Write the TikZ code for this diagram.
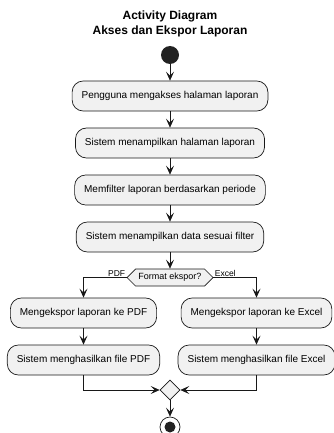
\documentclass[tikz,border=0pt]{standalone}
\usepackage{fontspec}
\setmainfont{Liberation Sans}
\usetikzlibrary{arrows.meta,shapes.geometric,shapes.symbols}
\definecolor{boxfill}{HTML}{F1F1F1}
\definecolor{linec}{HTML}{181818}
\definecolor{startc}{HTML}{222222}
\begin{document}
\begin{tikzpicture}[x=1pt,y=-1pt,
  act/.style={draw=linec, fill=boxfill, rounded corners=11pt, minimum height=30pt,
    inner xsep=9.5pt, font=\fontsize{10}{12}\selectfont, line width=0.7pt},
  flow/.style={draw=linec, line width=0.7pt, -{Stealth[length=9pt,width=8pt,inset=4pt]}},
  lbl/.style={font=\fontsize{8.5}{10}\selectfont, inner sep=1pt},
  decis/.style={signal, signal to=west and east, signal pointer angle=90,
    draw=linec, fill=boxfill, line width=0.7pt, minimum width=86pt, minimum height=17pt,
    inner sep=1pt, font=\fontsize{9}{11}\selectfont},
  mergebox/.style={diamond, draw=linec, fill=boxfill, line width=0.7pt,
    minimum width=20pt, minimum height=20pt, inner sep=0pt},
  titlefont/.style={font=\bfseries\fontsize{12}{15}\selectfont, align=center}]
\useasboundingbox (0,0) rectangle (334,433);
\node[titlefont] (title) at (170,23.5) {Activity Diagram\\Akses dan Ekspor Laporan};
\node[circle, fill=startc, minimum size=18pt, inner sep=0pt] (start) at (170,55) {};
\node[act] (a1) at (170,96) {Pengguna mengakses halaman laporan};
\node[act] (a2) at (170,143) {Sistem menampilkan halaman laporan};
\node[act] (a3) at (170,190) {Memfilter laporan berdasarkan periode};
\node[act] (a4) at (170,237) {Sistem menampilkan data sesuai filter};
\node[decis] (dec) at (170,277.5) {Format ekspor?};
\node[act] (p1) at (83.5,313) {Mengekspor laporan ke PDF};
\node[act] (p2) at (83.5,360) {Sistem menghasilkan file PDF};
\node[act] (x1) at (256.5,313) {Mengekspor laporan ke Excel};
\node[act] (x2) at (256.5,360) {Sistem menghasilkan file Excel};
\node[mergebox] (merge) at (170,390) {};
\node[circle, draw=linec, line width=0.7pt, fill=white, minimum size=20pt, inner sep=0pt] (end) at (170,427) {};
\fill[startc] (end.center) circle (5.5);
\draw[flow] (start) -- (a1);
\draw[flow] (a1) -- (a2);
\draw[flow] (a2) -- (a3);
\draw[flow] (a3) -- (a4);
\draw[flow] (a4) -- (dec.north);
\draw[flow] (dec.west) -| node[lbl, pos=0, anchor=south east] {PDF} (p1.north);
\draw[flow] (dec.east) -| node[lbl, pos=0, anchor=south west] {Excel} (x1.north);
\draw[flow] (p1) -- (p2);
\draw[flow] (x1) -- (x2);
\draw[flow] (p2.south) |- (merge.west);
\draw[flow] (x2.south) |- (merge.east);
\draw[flow] (merge.south) -- (end.north);
\end{tikzpicture}
\end{document}
